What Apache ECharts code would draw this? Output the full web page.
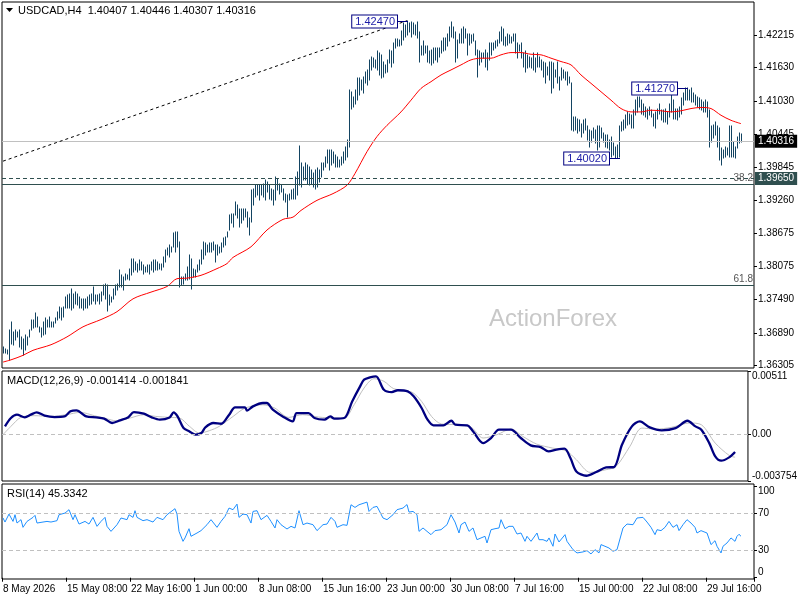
<!DOCTYPE html>
<html><head><meta charset="utf-8">
<script src="https://cdn.jsdelivr.net/npm/echarts@6/dist/echarts.min.js"></script>
<style>html,body{margin:0;padding:0;background:#fff}#c{width:800px;height:600px}</style>
</head><body><div id="c"></div>
<script>
// ---------- DATA ----------
const symbolTitle = 'USDCAD,H4  1.40407 1.40446 1.40307 1.40316';
const macdTitle = 'MACD(12,26,9) -0.001414 -0.001841';
const rsiTitle = 'RSI(14) 45.3342';
const watermark = 'ActionForex';

const tickLabels = ['8 May 2026','15 May 08:00','22 May 16:00','1 Jun 00:00','8 Jun 08:00','15 Jun 16:00',
  '23 Jun 00:00','30 Jun 08:00','7 Jul 16:00','15 Jul 00:00','22 Jul 08:00','29 Jul 16:00'];
const barsPerTick = 32;
const slotCount = 376; // bar slots on the time axis (includes right margin)

const barHigh = [
1.3664,1.3661,1.3658,1.3694,1.3709,1.3691,1.3694,1.3691,1.3694,1.3682,
1.3679,1.3685,1.3682,1.3694,1.3712,1.3712,1.3724,1.3718,1.3700,1.3697,
1.3709,1.3715,1.3712,1.3718,1.3709,1.3709,1.3715,1.3727,1.3736,1.3733,
1.3736,1.3753,1.3756,1.3759,1.3768,1.3759,1.3762,1.3759,1.3753,1.3750,
1.3750,1.3750,1.3753,1.3756,1.3759,1.3772,1.3756,1.3756,1.3759,1.3762,
1.3774,1.3777,1.3774,1.3756,1.3753,1.3768,1.3774,1.3777,1.3801,1.3792,
1.3789,1.3795,1.3792,1.3804,1.3822,1.3822,1.3816,1.3813,1.3819,1.3816,
1.3810,1.3807,1.3810,1.3810,1.3816,1.3819,1.3819,1.3816,1.3813,1.3813,
1.3825,1.3837,1.3840,1.3846,1.3843,1.3867,1.3870,1.3870,1.3852,1.3789,
1.3789,1.3795,1.3807,1.3828,1.3822,1.3804,1.3801,1.3810,1.3819,1.3837,
1.3852,1.3849,1.3846,1.3849,1.3849,1.3852,1.3846,1.3846,1.3843,1.3849,
1.3858,1.3861,1.3870,1.3900,1.3902,1.3902,1.3923,1.3917,1.3911,1.3911,
1.3911,1.3911,1.3905,1.3894,1.3944,1.3947,1.3953,1.3953,1.3953,1.3953,
1.3956,1.3962,1.3959,1.3953,1.3947,1.3944,1.3968,1.3965,1.3956,1.3953,
1.3947,1.3938,1.3935,1.3938,1.3944,1.3947,1.3968,1.3977,1.4023,1.3992,
1.3986,1.3992,1.3989,1.3986,1.3980,1.3974,1.3980,1.3983,1.3980,1.3992,
1.3992,1.4004,1.4016,1.4016,1.4016,1.4013,1.4007,1.4004,1.3998,1.4004,
1.4013,1.4022,1.4034,1.4123,1.4120,1.4111,1.4123,1.4144,1.4144,1.4141,
1.4147,1.4156,1.4159,1.4177,1.4183,1.4180,1.4177,1.4192,1.4189,1.4186,
1.4174,1.4168,1.4177,1.4195,1.4192,1.4207,1.4215,1.4215,1.4212,1.4228,
1.4242,1.4239,1.4247,1.4242,1.4245,1.4242,1.4239,1.4245,1.4227,1.4201,
1.4210,1.4201,1.4201,1.4192,1.4195,1.4198,1.4198,1.4198,1.4198,1.4210,
1.4216,1.4216,1.4224,1.4236,1.4245,1.4236,1.4227,1.4213,1.4224,1.4233,
1.4236,1.4233,1.4224,1.4224,1.4221,1.4224,1.4210,1.4195,1.4192,1.4189,
1.4189,1.4195,1.4189,1.4207,1.4207,1.4207,1.4210,1.4213,1.4227,1.4236,
1.4233,1.4218,1.4224,1.4221,1.4218,1.4224,1.4224,1.4207,1.4204,1.4207,
1.4189,1.4192,1.4186,1.4183,1.4180,1.4189,1.4180,1.4189,1.4183,1.4177,
1.4174,1.4171,1.4165,1.4174,1.4174,1.4171,1.4159,1.4174,1.4147,1.4162,
1.4159,1.4156,1.4156,1.4147,1.4135,1.4075,1.4075,1.4072,1.4069,1.4063,
1.4069,1.4072,1.4058,1.4052,1.4049,1.4055,1.4052,1.4058,1.4058,1.4055,
1.4046,1.4043,1.4043,1.4034,1.4040,1.4028,1.4022,1.4025,1.4058,1.4066,
1.4069,1.4078,1.4084,1.4081,1.4078,1.4087,1.4105,1.4111,1.4111,1.4105,
1.4099,1.4093,1.4090,1.4093,1.4087,1.4081,1.4084,1.4090,1.4099,1.4087,
1.4087,1.4090,1.4084,1.4099,1.4120,1.4105,1.4090,1.4090,1.4093,1.4108,
1.4117,1.4126,1.4127,1.4123,1.4126,1.4117,1.4114,1.4111,1.4108,1.4105,
1.4102,1.4105,1.4102,1.4087,1.4058,1.4060,1.4066,1.4058,1.4055,1.4019,
1.4016,1.4022,1.4019,1.4058,1.4059,1.4031,1.4022,1.4040,1.4046,1.40446];

const barLow = [
1.3653,1.3653,1.3652,1.3640,1.3670,1.3667,1.3676,1.3682,1.3664,1.3661,
1.3649,1.3658,1.3667,1.3682,1.3694,1.3697,1.3700,1.3700,1.3691,1.3682,
1.3685,1.3688,1.3700,1.3700,1.3700,1.3700,1.3706,1.3712,1.3715,1.3712,
1.3718,1.3733,1.3733,1.3733,1.3730,1.3733,1.3741,1.3739,1.3733,1.3733,
1.3730,1.3733,1.3733,1.3739,1.3741,1.3747,1.3741,1.3747,1.3741,1.3747,
1.3756,1.3750,1.3728,1.3739,1.3744,1.3750,1.3756,1.3765,1.3771,1.3771,
1.3765,1.3783,1.3786,1.3783,1.3792,1.3798,1.3801,1.3798,1.3801,1.3801,
1.3795,1.3798,1.3798,1.3795,1.3801,1.3798,1.3801,1.3801,1.3804,1.3801,
1.3807,1.3816,1.3828,1.3825,1.3834,1.3843,1.3834,1.3843,1.3771,1.3774,
1.3777,1.3783,1.3783,1.3786,1.3768,1.3789,1.3789,1.3798,1.3801,1.3813,
1.3822,1.3828,1.3834,1.3834,1.3834,1.3837,1.3816,1.3828,1.3831,1.3834,
1.3843,1.3846,1.3861,1.3873,1.3885,1.3879,1.3900,1.3894,1.3879,1.3885,
1.3891,1.3897,1.3879,1.3864,1.3888,1.3917,1.3932,1.3935,1.3926,1.3935,
1.3932,1.3926,1.3941,1.3929,1.3926,1.3917,1.3926,1.3944,1.3938,1.3941,
1.3926,1.3923,1.3897,1.3926,1.3929,1.3929,1.3929,1.3935,1.3953,1.3950,
1.3962,1.3962,1.3956,1.3953,1.3956,1.3950,1.3947,1.3950,1.3959,1.3968,
1.3980,1.3986,1.3992,1.3980,1.3989,1.3992,1.3986,1.3986,1.3986,1.3989,
1.3992,1.3998,1.4004,1.4022,1.4090,1.4093,1.4099,1.4105,1.4114,1.4123,
1.4117,1.4135,1.4132,1.4141,1.4159,1.4165,1.4162,1.4159,1.4150,1.4144,
1.4147,1.4153,1.4156,1.4171,1.4165,1.4171,1.4198,1.4201,1.4201,1.4204,
1.4213,1.4218,1.4221,1.4227,1.4218,1.4224,1.4221,1.4216,1.4174,1.4186,
1.4186,1.4189,1.4174,1.4171,1.4168,1.4171,1.4177,1.4174,1.4183,1.4189,
1.4192,1.4195,1.4201,1.4210,1.4218,1.4216,1.4174,1.4180,1.4207,1.4207,
1.4207,1.4216,1.4186,1.4204,1.4207,1.4210,1.4186,1.4147,1.4168,1.4174,
1.4180,1.4165,1.4159,1.4177,1.4186,1.4195,1.4198,1.4201,1.4207,1.4210,
1.4204,1.4201,1.4204,1.4207,1.4207,1.4210,1.4189,1.4180,1.4192,1.4180,
1.4165,1.4156,1.4162,1.4165,1.4162,1.4159,1.4156,1.4165,1.4165,1.4159,
1.4147,1.4135,1.4150,1.4141,1.4117,1.4126,1.4147,1.4135,1.4123,1.4141,
1.4144,1.4141,1.4132,1.4135,1.4052,1.4049,1.4052,1.4046,1.4049,1.4040,
1.4046,1.4052,1.4034,1.4022,1.4031,1.4037,1.4028,1.4016,1.4022,1.4037,
1.4031,1.4022,1.4019,1.4016,1.4004,1.4007,1.4002,1.4002,1.4004,1.4049,
1.4052,1.4055,1.4060,1.4063,1.4055,1.4055,1.4078,1.4084,1.4093,1.4081,
1.4078,1.4075,1.4072,1.4078,1.4075,1.4058,1.4055,1.4072,1.4081,1.4069,
1.4066,1.4066,1.4063,1.4075,1.4084,1.4072,1.4072,1.4069,1.4075,1.4081,
1.4096,1.4105,1.4105,1.4105,1.4102,1.4102,1.4096,1.4093,1.4090,1.4087,
1.4084,1.4084,1.4075,1.4022,1.4031,1.4037,1.4043,1.4022,1.3998,1.3989,
1.4001,1.4004,1.4007,1.4004,1.4004,1.4004,1.4001,1.4019,1.4028,1.40307];

const maIndex = [0,4,10,15,24,32,40,49,57,65,74,82,87,92,99,107,112,115,124,132,140,145,149,157,165,172,176,182,187,192,
  199,204,209,214,219,224,229,234,239,244,249,254,259,264,269,274,279,284,289,294,299,304,309,314,319,324,329,334,339,344,349,354,359,364,369];
const maValue = [1.3637,1.3641,1.3649,1.3658,1.3668,1.3682,1.3700,1.3713,1.3727,1.3750,1.3762,1.3772,1.3786,1.3787,1.3792,1.3804,1.3813,1.3824,1.3843,1.3873,
  1.3892,1.3896,1.3908,1.3926,1.3938,1.3953,1.3974,1.4013,1.4040,1.4060,1.4084,1.4105,1.4126,1.4138,1.4150,1.4159,1.4168,1.4177,1.4180,1.4180,
  1.4186,1.4190,1.4190,1.4187,1.4186,1.4180,1.4174,1.4168,1.4150,1.4135,1.4120,1.4105,1.4090,1.4084,1.4084,1.4087,1.4086,1.4084,1.4086,1.4090,
  1.4092,1.4090,1.4078,1.4069,1.4063];

const macdIndex = [1,4,7,11,14,17,21,26,31,34,37,42,47,51,55,59,63,66,71,75,79,84,86,88,91,94,97,100,102,106,
  110,114,117,122,123,126,131,133,136,141,146,148,154,157,162,165,167,172,176,180,182,185,188,192,196,199,
  204,207,211,214,217,222,226,228,234,237,242,246,250,256,261,266,271,275,279,283,286,289,294,299,304,308,312,317,321,326,
  332,339,345,349,352,356,359,362,366,369];
const macdValue = [0.00065,0.00132,0.00159,0.00137,0.00159,0.00178,0.00151,0.00140,0.00145,0.00186,
  0.00194,0.00145,0.00137,0.00127,0.00092,0.00113,0.00137,0.00180,0.00167,0.00137,
  0.00119,0.00137,0.00178,0.00145,0.00051,0.00024,-0.00002,0.00011,0.00057,0.00092,
  0.00086,0.00159,0.00218,0.00218,0.00191,0.00226,0.00253,0.00253,0.00199,0.00145,
  0.00105,0.00172,0.00172,0.00132,0.00119,0.00145,0.00127,0.00132,0.00266,0.00387,
  0.00441,0.00460,0.00468,0.00360,0.00341,0.00356,
  0.00347,0.00307,0.00213,0.00119,0.00073,0.00073,0.00110,0.00078,0.00073,0.00024,
  -0.00070,-0.00029,0.00038,0.00038,-0.00029,-0.00088,-0.00102,-0.00137,-0.00123,-0.00115,
  -0.00190,-0.00298,-0.00333,-0.00303,-0.00266,-0.00263,-0.00083,0.00065,0.00105,0.00057,
  0.00033,0.00051,0.00110,0.00065,0.00038,-0.00070,-0.00177,-0.00212,-0.00185,-0.001414];

const signalIndex = [0,4,9,16,24,32,39,46,52,57,64,71,77,84,89,94,99,104,109,116,122,131,137,144,151,159,167,172,177,182,187,192,197,
  206,211,216,221,229,236,242,249,256,262,269,277,284,289,296,304,309,316,322,329,337,346,352,359,366,369];
const signalValue = [-0.00002,0.00065,0.00137,0.00151,0.00145,0.00159,0.00178,0.00151,0.00127,0.00110,
  0.00132,0.00159,0.00145,0.00137,0.00132,0.00065,0.00011,0.00030,0.00065,0.00145,
  0.00212,0.00239,0.00212,0.00137,0.00159,0.00140,0.00132,0.00132,0.00239,0.00374,
  0.00449,0.00428,0.00368,
  0.00341,0.00266,0.00145,0.00084,0.00078,0.00057,-0.00029,-0.00002,0.00043,-0.00016,
  -0.00078,-0.00110,-0.00134,-0.00204,-0.00306,-0.00284,-0.00258,-0.00096,0.00051,0.00043,
  0.00057,0.00092,0.00078,-0.00070,-0.00169,-0.001841];

const rsiIndex = [0,1,3,5,6,7,9,10,12,15,16,17,20,22,24,27,28,31,33,35,36,38,41,43,45,47,49,51,52,54,
  57,59,62,63,65,66,67,70,72,75,77,80,82,83,86,87,88,90,91,93,94,97,99,102,104,107,109,111,113,115,
  117,118,120,122,124,125,127,129,132,134,136,137,139,142,144,146,148,150,152,155,157,160,162,164,166,167,170,172,174,176,
  178,182,183,185,187,190,192,195,197,
  200,202,203,205,207,208,210,212,214,216,219,222,224,226,228,229,231,233,235,237,
  239,241,242,244,246,248,249,251,253,255,257,259,261,262,264,267,268,270,272,273,
  275,276,278,281,282,285,287,290,292,294,296,298,299,301,303,305,307,308,310,312,
  315,317,320,322,324,326,327,329,331,333,335,337,338,340,342,344,346,347,349,352,
  353,354,356,357,359,360,362,364,366,367,368,369];
const rsiValue = [65.3,60.9,69.6,61.6,68.9,59.8,63.5,55.1,61.6,66.0,68.2,59.8,60.9,61.6,60.9,62.4,68.9,70.7,74.4,63.5,
  68.9,58.7,61.6,58.7,66.0,56.2,61.6,66.0,56.2,50.7,58.0,65.3,63.5,68.9,66.0,73.3,66.0,62.4,63.5,60.9,
  66.0,63.5,68.9,68.9,75.5,69.6,50.7,39.8,43.5,53.6,45.3,48.9,51.5,58.0,63.5,55.1,61.6,67.1,76.2,74.4,
  80.5,66.0,69.6,68.9,59.8,72.5,73.3,63.5,68.2,61.6,54.4,63.5,58.0,53.3,56.2,54.4,73.3,58.0,59.8,58.0,
  51.5,58.0,58.7,66.0,61.6,55.1,58.0,57.3,79.8,76.9,79.8,82.7,72.5,76.9,78.0,65.3,63.5,68.9,74.4,
  76.2,80.0,71.8,72.5,68.9,50.7,54.4,50.7,47.1,51.5,52.5,58.0,68.9,60.9,48.9,58.0,60.9,50.7,54.4,41.6,
  43.5,45.3,38.0,52.5,53.6,54.4,63.5,53.6,56.2,56.2,47.8,48.9,39.8,45.3,39.8,48.9,41.6,41.6,39.8,43.5,
  34.4,47.8,39.1,47.1,39.8,30.7,27.1,28.2,29.6,26.0,30.7,27.1,36.2,34.4,32.5,28.9,30.7,29.6,54.4,58.7,
  58.0,65.3,66.0,60.9,55.1,47.1,52.5,51.5,55.1,61.6,55.1,58.0,51.5,58.0,63.5,59.8,55.1,48.9,51.5,48.9,
  47.8,36.2,40.5,34.4,27.1,34.4,38.0,43.5,39.8,45.3,47.5,45.3342];

const priceTicks = [1.36305,1.36890,1.37490,1.38075,1.38675,1.39260,1.39845,1.40445,1.41030,1.41630,1.42215];
const priceRange = [1.36264, 1.42804];
const macdTicks = [-0.003754, 0, 0.00511];
const macdTickText = ['-0.003754', '0.00', '0.00511'];
const rsiTicks = [0, 30, 70, 100];
const rsiRange = [-1.4, 102.5];
const rsiLevels = [30, 70];

const lastPrice = 1.40316;
const supportLevel = 1.39650;
const fibLevels = [1.39545, 1.37745];
const fibNames = ['38.2', '61.8'];
const trendStart = [0, 1.3996];
const trendEnd = [202, 1.4247];
const swingIndex = [202, 308, 342];
const swingPrice = [1.42470, 1.40020, 1.41270];

// ---------- STYLE ----------
const FONT = 'Liberation Sans';
const barColor = '#134462';
const levelColor = '#2f4f4f';
const axisText = {color:'#000', fontSize:10, fontFamily:FONT};

const cats = Array.from({length: slotCount}, (_, i) => String(i));
const isTick = (i) => i % barsPerTick === 0;

const grids = [
  {left:2, top:2, width:752, height:366},
  {left:2, top:371, width:752, height:110},
  {left:2, top:484, width:752, height:95}
].map(g => Object.assign({show:true, borderColor:'#000', borderWidth:1, backgroundColor:'transparent'}, g));

const xAxes = [0,1,2].map(g => ({
  type:'category', gridIndex:g, data:cats, boundaryGap:true,
  axisLine:{show:false}, splitLine:{show:false},
  axisTick:{show:g===2, interval:(i)=>isTick(i), length:4, lineStyle:{color:'#000'}},
  axisLabel:Object.assign({show:g===2, interval:(i)=>isTick(i), align:'left', margin:5,
    formatter:(v, i)=> tickLabels[i / barsPerTick] || ''}, axisText)
}));

const yAxes = [
  {type:'value', gridIndex:0, position:'right', min:priceRange[0], max:priceRange[1],
   axisLine:{show:false}, splitLine:{show:false},
   axisTick:{show:true, customValues:priceTicks, length:3, lineStyle:{color:'#000'}},
   axisLabel:Object.assign({customValues:priceTicks, margin:4, formatter:(v)=>v.toFixed(5)}, axisText)},
  {type:'value', gridIndex:1, position:'right', min:macdTicks[0], max:macdTicks[2],
   axisLine:{show:false}, splitLine:{show:false},
   axisTick:{show:true, customValues:macdTicks, length:3, lineStyle:{color:'#000'}},
   axisLabel:Object.assign({customValues:macdTicks, margin:4,
     verticalAlignMinLabel:'bottom', verticalAlignMaxLabel:'top',
     formatter:(v)=>{ const k = macdTicks.indexOf(v); return k >= 0 ? macdTickText[k] : ''; }}, axisText)},
  {type:'value', gridIndex:2, position:'right', min:rsiRange[0], max:rsiRange[1],
   axisLine:{show:false}, splitLine:{show:false},
   axisTick:{show:true, customValues:rsiTicks, length:3, lineStyle:{color:'#000'}},
   axisLabel:Object.assign({customValues:rsiTicks, margin:4,
     verticalAlignMinLabel:'bottom', verticalAlignMaxLabel:'top'}, axisText)}
];

const pairs = (idx, val) => idx.map((x, k) => [x, val[k]]);

const priceBoxLabel = (bg) => ({show:true, position:'end', distance:1, color:'#fff', backgroundColor:bg,
  padding:[2,3,1,3], fontSize:10, fontFamily:FONT, formatter:(p)=>Number(p.value).toFixed(5)});

const option = {
  animation:false,
  backgroundColor:'#fff',
  title:[
    {text:symbolTitle, left:18, top:5, padding:0, textStyle:{fontSize:11, fontWeight:'normal', fontFamily:FONT, color:'#000'}},
    {text:macdTitle, left:7, top:375, padding:0, textStyle:{fontSize:11, fontWeight:'normal', fontFamily:FONT, color:'#000'}},
    {text:rsiTitle, left:7, top:488, padding:0, textStyle:{fontSize:11, fontWeight:'normal', fontFamily:FONT, color:'#000'}}
  ],
  graphic:[
    {type:'polygon', shape:{points:[[6,8],[13,8],[9.5,12]]}, style:{fill:'#000'}, silent:true},
    {type:'text', left:489, top:307, style:{text:watermark, fill:'#c8c8c8', font:'24px ' + FONT}, silent:true, z:-1}
  ],
  grid:grids,
  xAxis:xAxes,
  yAxis:yAxes,
  series:[
    {
      name:'bars', type:'custom', xAxisIndex:0, yAxisIndex:0, clip:true, z:3,
      data: barHigh.map((h, i) => [i, barLow[i], h]),
      encode:{x:0, y:[1,2]},
      renderItem:(params, api) => {
        const lo = api.coord([api.value(0), api.value(1)]);
        const hi = api.coord([api.value(0), api.value(2)]);
        const x = Math.round(lo[0]) + 0.5;
        return {type:'line', shape:{x1:x, y1:Math.round(lo[1]) + 0.5, x2:x, y2:Math.round(hi[1]) - 0.5},
          style:{stroke:barColor, lineWidth:1}};
      }
    },
    {
      name:'MA', type:'line', xAxisIndex:0, yAxisIndex:0, z:4,
      data: pairs(maIndex, maValue), showSymbol:false, smooth:0.3,
      lineStyle:{color:'#ff0000', width:1},
      markLine:{
        silent:true, symbol:['none','none'], animation:false, precision:5,
        data:[
          {yAxis:lastPrice, lineStyle:{color:'#c0c0c0', type:'solid', width:1}, label:priceBoxLabel('#000')},
          {yAxis:supportLevel, lineStyle:{color:levelColor, type:[4,3], width:1}, label:priceBoxLabel(levelColor)},
          {yAxis:fibLevels[0], lineStyle:{color:levelColor, type:'solid', width:1},
            label:{show:true, position:'insideEndTop', distance:1, formatter:fibNames[0], color:'#555', fontSize:10, fontFamily:FONT}},
          {yAxis:fibLevels[1], lineStyle:{color:levelColor, type:'solid', width:1},
            label:{show:true, position:'insideEndTop', distance:1, formatter:fibNames[1], color:'#555', fontSize:10, fontFamily:FONT}},
          [
            {coord:trendStart, lineStyle:{color:'#000', type:[3,3], width:1}, label:{show:false}},
            {coord:trendEnd, lineStyle:{color:'#000', type:[3,3], width:1}, label:{show:false}}
          ]
        ]
      }
    },
    {
      name:'swings', type:'custom', xAxisIndex:0, yAxisIndex:0, z:10,
      data: pairs(swingIndex, swingPrice),
      encode:{x:0, y:1},
      renderItem:(params, api) => {
        const p = api.coord([api.value(0), api.value(1)]);
        const y = Math.round(p[1]) + 0.5;
        const xr = Math.round(p[0]) - 10;
        return {type:'group', children:[
          {type:'line', shape:{x1:xr, y1:y, x2:Math.round(p[0]) + 1, y2:y}, style:{stroke:'#000080', lineWidth:1}},
          {type:'text', x:xr, y:y, style:{text:api.value(1).toFixed(5), align:'right', verticalAlign:'middle',
            fill:'#1c1ca8', font:'11px ' + FONT, backgroundColor:'#fff', borderColor:'#000080', borderWidth:1,
            padding:[1,2,0,3]}}
        ]};
      }
    },
    {
      name:'Signal', type:'line', xAxisIndex:1, yAxisIndex:1, z:3,
      data: pairs(signalIndex, signalValue), showSymbol:false, smooth:0.3,
      lineStyle:{color:'#c0c0c0', width:1},
      markLine:{silent:true, symbol:['none','none'], label:{show:false}, precision:5,
        data:[{yAxis:0, lineStyle:{color:'#c0c0c0', type:[4,3], width:1}}]}
    },
    {
      name:'MACD', type:'line', xAxisIndex:1, yAxisIndex:1, z:4,
      data: pairs(macdIndex, macdValue), showSymbol:false, smooth:0.3,
      lineStyle:{color:'#000080', width:2.3}
    },
    {
      name:'RSI', type:'line', xAxisIndex:2, yAxisIndex:2, z:4,
      data: pairs(rsiIndex, rsiValue), showSymbol:false,
      lineStyle:{color:'#1e90ff', width:1},
      markLine:{silent:true, symbol:['none','none'], label:{show:false},
        data: rsiLevels.map(v => ({yAxis:v, lineStyle:{color:'#c0c0c0', type:[4,3], width:1}}))}
    }
  ]
};

const chart = echarts.init(document.getElementById('c'), null, {renderer:'canvas'});
chart.setOption(option);
</script>
</body></html>
